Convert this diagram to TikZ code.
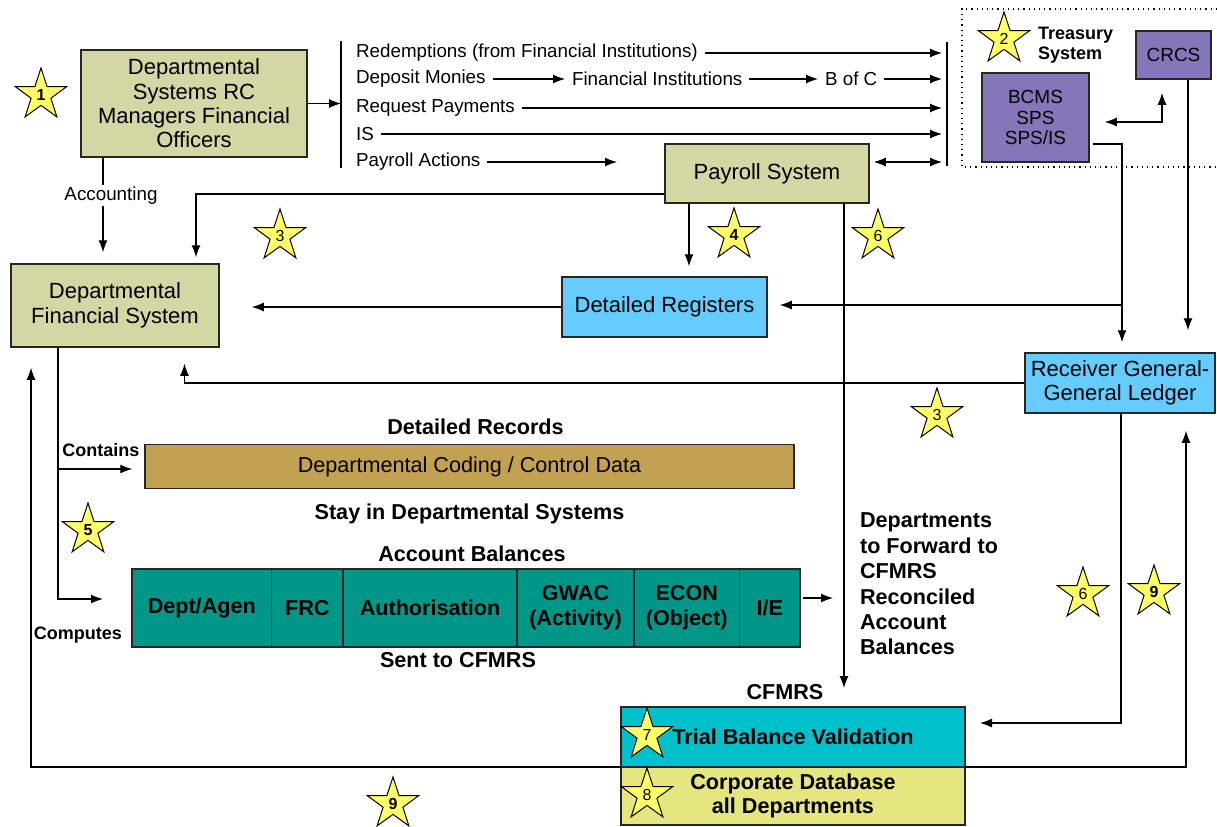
\documentclass[tikz,border=0pt]{standalone}
\usepackage{fontspec}
\setmainfont{Liberation Sans}
\usepackage{tikz}
\usetikzlibrary{shapes,arrows.meta,positioning}

\definecolor{khaki}{RGB}{212,214,164}
\definecolor{skyblue}{RGB}{102,204,255}
\definecolor{trpurple}{RGB}{134,117,184}
\definecolor{gold}{RGB}{194,161,82}
\definecolor{tealbox}{RGB}{0,150,136}
\definecolor{cyanbox}{RGB}{0,192,204}
\definecolor{paleyellow}{RGB}{230,230,128}
\definecolor{staryellow}{RGB}{255,255,102}

\tikzstyle{sysbox} = [rectangle, draw=black!85, line width=0.75pt, fill=khaki, text centered, align=center, inner sep=2pt, font=\fontsize{11}{12.2}\selectfont]
\tikzstyle{regbox} = [sysbox, fill=skyblue]
\tikzstyle{trbox} = [sysbox, fill=trpurple, font=\fontsize{9.5}{10.4}\selectfont]
\tikzstyle{databox} = [sysbox, fill=gold, font=\fontsize{10.8}{12.5}\selectfont]
\tikzstyle{cell} = [rectangle, draw=black!85, line width=0.75pt, fill=tealbox, align=center, outer sep=0pt, inner sep=0pt, minimum height=39pt, font=\bfseries\fontsize{10.8}{12.5}\selectfont]
\tikzstyle{cfbox} = [rectangle, draw=black!85, line width=0.75pt, align=center, outer sep=0pt, minimum width=172pt, font=\bfseries\fontsize{10.8}{12}\selectfont]
\tikzstyle{textonly} = [draw=none, fill=none, text centered, font=\fontsize{9.4}{11}\selectfont]
\tikzstyle{boldtext} = [textonly, font=\bfseries\fontsize{10.8}{12.7}\selectfont]
\tikzstyle{smallbold} = [textonly, font=\bfseries\fontsize{9}{10}\selectfont]
\tikzstyle{badge} = [star, star points=5, star point ratio=2.6, draw=black, line width=0.5pt, fill=staryellow, minimum size=27pt, inner sep=0pt, font=\fontsize{8}{8}\selectfont]
\tikzstyle{tedge}  = [draw, line width=0.6pt, >={Latex[length=6pt,width=4.5pt]}, ->]

\begin{document}
\begin{tikzpicture}[x=0.5pt, y=-0.5pt]
\useasboundingbox (0,0) rectangle (1217,826);

% systems =============================
\node[sysbox, minimum width=113pt, minimum height=53.5pt] (dsrc) at (194,103.5) {Departmental\\Systems RC\\Managers Financial\\Officers};
\node[sysbox, minimum width=104pt, minimum height=41.5pt] (dfs) at (115,305.5) {Departmental\\Financial System};
\node[sysbox, minimum width=102pt, minimum height=29.5pt] (payroll) at (767,173.5) {Payroll System};
\node[regbox, minimum width=102.5pt, minimum height=30pt] (dreg) at (664.5,307) {Detailed Registers};
\node[regbox, minimum width=95pt, minimum height=30pt] (rggl) at (1120,383) {Receiver General-\\General Ledger};

% treasury
\draw[dotted, line width=0.6pt] (1217,9) -| (962,167) -- (1217,167);
\node[trbox, minimum width=53.5pt, minimum height=44.5pt] (bcms) at (1035.5,117.5) {BCMS\\SPS\\SPS/IS};
\node[trbox, minimum width=37.5pt, minimum height=24pt] (crcs) at (1173.5,55) {CRCS};
\node[smallbold, align=left, anchor=west] (treasury) at (1031,45) {Treasury\\System};

% records and balances
\node[databox, minimum width=324.5pt, minimum height=22pt] (coding) at (469.5,466.5) {Departmental Coding / Control Data};
\node[boldtext, above=1pt of coding, xshift=3pt] (records) {Detailed Records};
\node[boldtext, below=4pt of coding] (stay) {Stay in Departmental Systems};

\node[cell, minimum width=69.75pt, anchor=west] (dept) at (132,608) {Dept/Agen};
\node[cell, minimum width=35.75pt, right=0pt of dept] (frc) {FRC};
\node[cell, minimum width=87pt, right=0pt of frc] (auth) {Authorisation};
\node[cell, minimum width=58.5pt, right=0pt of auth] (gwac) {GWAC\\(Activity)};
\node[cell, minimum width=52.75pt, right=0pt of gwac] (econ) {ECON\\(Object)};
\node[cell, minimum width=30.25pt, right=0pt of econ] (ie) {I/E};
\node[boldtext] (acctbal) at (472,554) {Account Balances};
\node[boldtext] (sent) at (458,660) {Sent to CFMRS};
\node[smallbold] (contains) at (101,450) {Contains};
\node[smallbold] (computes) at (78,635) {Computes};

% CFMRS
\node[cfbox, fill=cyanbox, minimum height=30pt] (tbv) at (793,737) {Trial Balance Validation};
\node[cfbox, fill=paleyellow, minimum height=29pt, below=0pt of tbv] (corp) {Corporate Database\\all Departments};
\node[boldtext, above=0pt of tbv, xshift=-4pt] (cfmrs) {CFMRS};
\node[boldtext, align=left, anchor=west] (fwd) at (853,584) {Departments\\to Forward to\\CFMRS\\Reconciled\\Account\\Balances};

% flows to treasury
\coordinate (ltop) at (341,41);
\coordinate (lbot) at (341,168);
\coordinate (rtop) at (947,42);
\coordinate (rbot) at (947,166);
\draw[line width=0.6pt] (ltop) -- (lbot);
\draw[line width=0.6pt] (rtop) -- (rbot);

\node[textonly, anchor=west] (redeem) at (349,53) {Redemptions (from Financial Institutions)};
\node[textonly, anchor=west] (deposit) at (349,79) {Deposit Monies};
\node[textonly, anchor=west] (finst) at (565,79) {Financial Institutions};
\node[textonly, anchor=west] (bofc) at (818,79) {B of C};
\node[textonly, anchor=west] (request) at (349,108) {Request Payments};
\node[textonly, anchor=west] (isflow) at (349,134) {IS};
\node[textonly, anchor=west] (payact) at (349,162) {Payroll Actions};
\coordinate (payactend) at (617,162);
\coordinate (payR) at ([shift={(4,-11.5)}]payroll.east);
\coordinate (tap) at (1122,305);

% stars
\node[badge, font=\bfseries\fontsize{8}{8}\selectfont] (s1) at (41,95) {1};
\node[badge] (s2) at (1004,39) {2};
\node[badge] (s3a) at (280,236) {3};
\node[badge, font=\bfseries\fontsize{8}{8}\selectfont] (s4) at (734,235) {4};
\node[badge] (s6a) at (878,236) {6};
\node[badge] (s3b) at (937,415) {3};
\node[badge, font=\bfseries\fontsize{8}{8}\selectfont] (s5) at (88,530) {5};
\node[badge] (s6b) at (1083,594) {6};
\node[badge, font=\bfseries\fontsize{8}{8}\selectfont] (s9a) at (1154,592) {9};
\node[badge] (s7) at (647,735) {7};
\node[badge] (s8) at (647,795) {8};
\node[badge, font=\bfseries\fontsize{8}{8}\selectfont] (s9b) at (393,804) {9};

% edges
\path[tedge] (dsrc.east) -- (dsrc.east -| ltop);
\path[tedge, shorten >=2.5pt] (redeem.east) -- (redeem.east -| rtop);
\path[tedge] (deposit.east) -- (finst.west);
\path[tedge] (finst.east) -- (bofc.west);
\path[tedge, shorten >=2.5pt] (bofc.east) -- (bofc.east -| rtop);
\path[tedge, shorten >=2.5pt] (request.east) -- (request.east -| rtop);
\path[tedge, shorten >=2.5pt] (isflow.east) -- (isflow.east -| rtop);
\path[tedge] (payact.east) -- (payactend);
\path[tedge, <->, shorten >=2.5pt] (payR) -- (payR -| rtop);

\path[tedge] ([shift={(-91,0)}]dsrc.south) -- node[textonly, fill=white, inner sep=1pt, pos=0.4, xshift=4pt] {Accounting} ([shift={(-12,-11)}]dfs.north);
\path[tedge] ([shift={(0,20.5)}]payroll.west) -| ([shift={(81,-6)}]dfs.north);
\path[tedge] ([shift={(-78,0)}]payroll.south) -- ([shift={(24.5,-10)}]dreg.north);
\path[tedge] ([shift={(77,0)}]payroll.south) -- ([shift={(51,-19)}]tbv.north);
\path[tedge, shorten >=16pt] (dreg.west) -- (dreg.west -| dfs.east);

\path[tedge, <->] ([shift={(15,4.5)}]bcms.east) -| ([shift={(-11.5,13)}]crcs.south);
\path[tedge] ([shift={(3,26.5)}]bcms.east) -| ([shift={(2,-10)}]rggl.north);
\path[tedge, shorten >=6pt] (tap) -- (tap -| dreg.east);
\path[tedge] ([shift={(14.5,0)}]crcs.south) -- ([shift={(68,-22)}]rggl.north);
\path[tedge] (rggl.west) -| ([shift={(69.5,16)}]dfs.south);
\path[tedge] ([shift={(1,0)}]rggl.south) |- ([shift={(15,-14)}]tbv.east);

\path[tedge] ([shift={(-57,0)}]dfs.south) |- ([shift={(-12,2.5)}]coding.west);
\path[tedge] ([shift={(-57,0)}]dfs.south) |- ([shift={(-29,-9)}]dept.west);
\path[tedge] ([shift={(3,-10)}]ie.east) -- ([shift={(33,-10)}]ie.east);

\path[tedge] (tbv.south west) -| ([shift={(-84,20)}]dfs.south);
\path[tedge] (tbv.south east) -| ([shift={(66,17)}]rggl.south);

\end{tikzpicture}
\end{document}
